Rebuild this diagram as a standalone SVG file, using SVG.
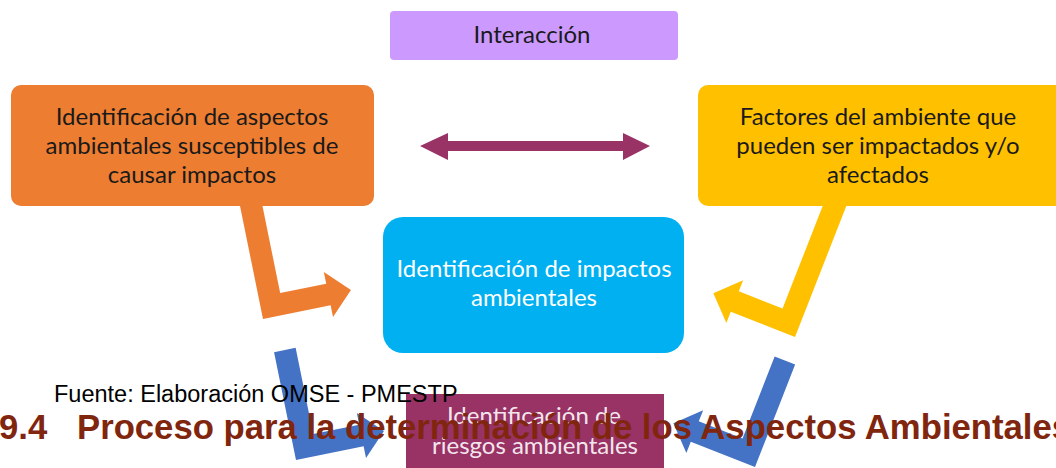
<svg xmlns="http://www.w3.org/2000/svg" width="1056" height="468" viewBox="0 0 1056 468">
<style>
.lbl{font-family:Lato,"Open Sans","Noto Sans",sans-serif;font-size:24px;text-anchor:middle}
.dark{fill:#1a1a1a}
.light{fill:#ffffff}
.src{font-family:"Liberation Sans",Arial,sans-serif;font-size:23.5px;fill:#000}
.hd{font-family:"Liberation Sans",Arial,sans-serif;font-size:34.7px;font-weight:bold;fill:#80260f}
</style>
<rect width="1056" height="468" fill="#ffffff"/>
<g id="connectors">
  <path id="arrow-orange" fill="#ed7d31" transform="translate(263,319) rotate(-11.5)" d="M0,-125 L0,0 L69,0 L69,12 L92,-11 L69,-34 L69,-22 L22,-22 L22,-125 Z"/>
  <path id="arrow-yellow" fill="#ffc000" transform="translate(795,337) rotate(21.4)" d="M0,-150 L0,0 L-69,0 L-69,12 L-92,-11 L-69,-34 L-69,-22 L-22,-22 L-22,-150 Z"/>
  <path id="arrow-blue-left" fill="#4472c4" transform="translate(296,460) rotate(-11.5)" d="M0,-110 L0,0 L69,0 L69,12 L92,-11 L69,-34 L69,-22 L22,-22 L22,-110 Z"/>
  <path id="arrow-blue-right" fill="#4472c4" transform="translate(755,467) rotate(21.4)" d="M0,-110 L0,0 L-69,0 L-69,12 L-92,-11 L-69,-34 L-69,-22 L-22,-22 L-22,-110 Z"/>
  <path id="arrow-interaction" fill="#993366" d="M420,146 L448,133 L448,141 L623,141 L623,133 L650,146 L623,160 L623,151 L448,151 L448,160 Z"/>
</g>
<g id="node-interaccion">
  <rect x="390" y="11" width="288" height="49" rx="4" fill="#cc99ff"/>
  <text class="lbl dark" x="532" y="43">Interacción</text>
</g>
<g id="node-aspectos">
  <rect x="11" y="85" width="363" height="121" rx="10" fill="#ed7d31"/>
  <text class="lbl dark" x="192" y="125">Identificación de aspectos</text>
  <text class="lbl dark" x="192" y="154">ambientales susceptibles de</text>
  <text class="lbl dark" x="192" y="183">causar impactos</text>
</g>
<g id="node-factores">
  <rect x="698" y="85" width="372" height="121" rx="10" fill="#ffc000"/>
  <text class="lbl dark" x="878" y="125">Factores del ambiente que</text>
  <text class="lbl dark" x="878" y="154">pueden ser impactados y/o</text>
  <text class="lbl dark" x="878" y="183">afectados</text>
</g>
<g id="node-impactos">
  <rect x="383" y="217" width="301" height="136" rx="20" fill="#00b0f0"/>
  <text class="lbl light" x="534" y="277">Identificación de impactos</text>
  <text class="lbl light" x="534" y="306">ambientales</text>
</g>
<g id="node-riesgos">
  <rect x="406" y="394" width="258" height="80" fill="#993366"/>
  <text class="lbl light" x="534" y="424" fill-opacity="0.9">Identificación de</text>
  <text class="lbl light" x="535" y="454" fill-opacity="0.9">riesgos ambientales</text>
</g>
<g id="captions">
  <text class="src" x="54" y="402">Fuente: Elaboración OMSE - PMESTP</text>
  <text class="hd" x="-1" y="439">9.4</text>
  <text class="hd" x="77" y="439">Proceso para la determinación de los Aspectos Ambientales</text>
</g>
</svg>
